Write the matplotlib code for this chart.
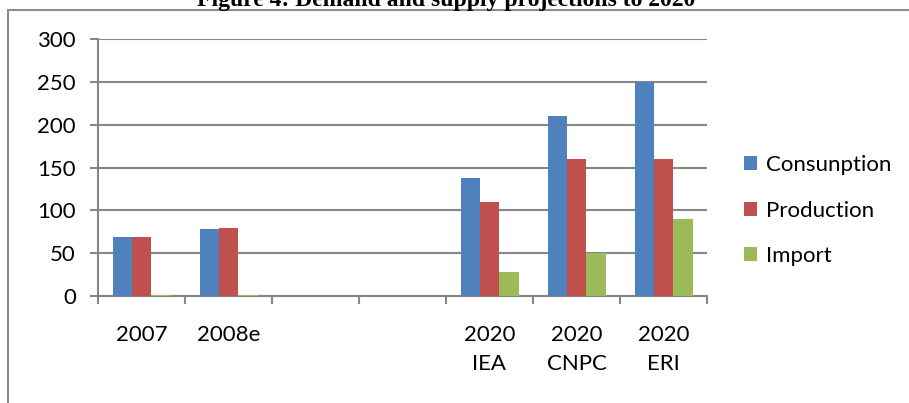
import numpy as np
import matplotlib.pyplot as plt
from matplotlib.patches import Rectangle

# Data
categories = ["2007", "2008e", "", "", "2020\nIEA", "2020\nCNPC", "2020\nERI"]
consumption = [69, 78, np.nan, np.nan, 138, 210, 250]
production = [69, 79, np.nan, np.nan, 110, 160, 160]
imports = [1, 1, np.nan, np.nan, 28, 50, 90]

series_names = ["Consunption", "Production", "Import"]
colors = ["#4F81BD", "#C0504D", "#9BBB59"]
grey = "#878787"

plt.rcParams["font.family"] = ["Lato", "DejaVu Sans"]

fig = plt.figure(figsize=(9.09, 4.03), dpi=100)
ax = fig.add_axes([98 / 909, 1 - 296 / 403, 609 / 909, 257 / 403])

x = np.arange(len(categories))
w = 1 / 4.5
for i, (vals, name, c) in enumerate(zip([consumption, production, imports], series_names, colors)):
    ax.bar(x + (i - 1) * w, vals, width=w, color=c, label=name, zorder=3)

ax.set_xlim(-0.5, len(categories) - 0.5)
ax.set_ylim(0, 300)
ax.set_yticks(np.arange(0, 301, 50))
ax.yaxis.grid(True, color=grey, linewidth=1.5, zorder=0)

# category boundaries get the tick marks, labels sit in the middle
ax.set_xticks(np.arange(-0.5, len(categories), 1))
ax.set_xticklabels([])
ax.set_xticks(x, minor=True)
ax.set_xticklabels(categories, minor=True, fontsize=16, linespacing=1.55)
ax.tick_params(axis="x", which="major", length=6, width=1.5, color=grey, direction="out")
ax.tick_params(axis="x", which="minor", length=0, pad=21)
ax.tick_params(axis="y", length=6, width=1.5, color=grey, pad=10, labelsize=16)

for side in ["top", "right"]:
    ax.spines[side].set_visible(False)
for side in ["left", "bottom"]:
    ax.spines[side].set_color(grey)
    ax.spines[side].set_linewidth(1.5)

fig.legend(loc="upper left", bbox_to_anchor=(744 / 909, 1 - 155 / 403), frameon=False,
           fontsize=16, handlelength=0.6, handleheight=0.6, handletextpad=0.4,
           labelspacing=1.15, borderpad=0, borderaxespad=0)

# outer chart frame, cut by the image edge
fig.patches.append(Rectangle((8 / 909, -0.05), 1.2, 1.05 - 10 / 403, transform=fig.transFigure,
                             fill=False, edgecolor="#8c8c8c", linewidth=1.5))

fig.text(446 / 909, 1 - 6 / 403, "Figure 4: Demand and supply projections to 2020",
         ha="center", va="baseline", fontsize=17, fontweight="bold", family="Liberation Serif")

fig.savefig("out.png", dpi=100)
